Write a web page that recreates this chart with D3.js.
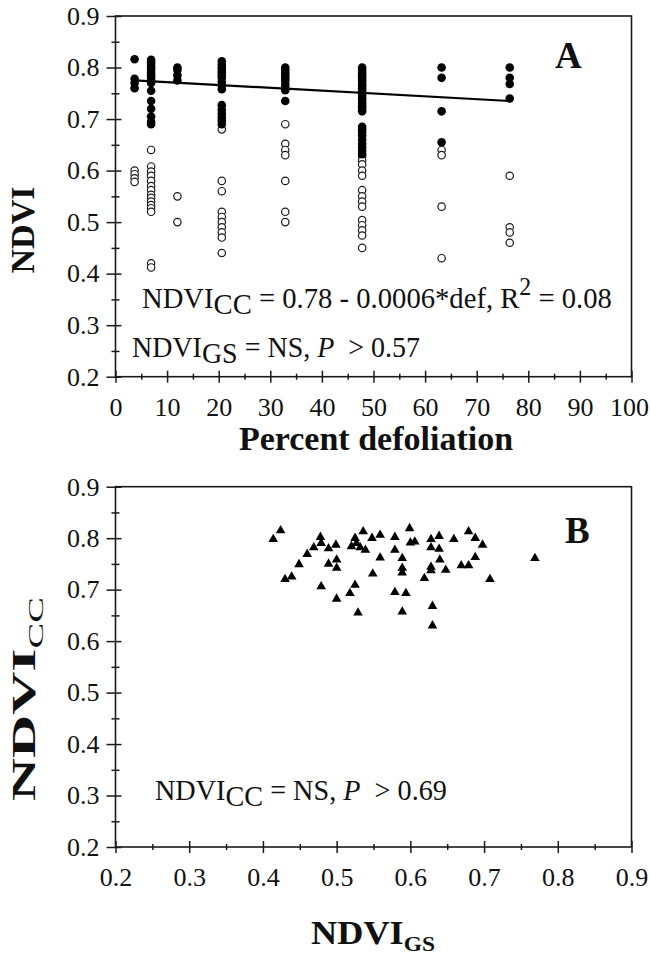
<!DOCTYPE html>
<html>
<head>
<meta charset="utf-8">
<script src="https://cdn.jsdelivr.net/npm/d3@7"></script>
<style>
  body { margin: 0; background: #fff; }
  svg text { font-family: "Liberation Serif", "Times New Roman", serif; fill: #111; }
</style>
</head>
<body>
<div id="chart"></div>
<script>
// ---- Panel A data: percent defoliation groups, NDVI per tree ----
const defLevels = [3.7, 6.9, 12, 20.6, 32.9, 47.8, 63.2, 76.4];

// NDVI_CC (filled circles), one list per defoliation level
const ndviCC = [
    [0.816, 0.778, 0.770, 0.760],
    [0.815, 0.810, 0.805, 0.800, 0.795, 0.790, 0.785, 0.780, 0.775, 0.770, 0.755, 0.735, 0.720, 0.705, 0.695, 0.690],
    [0.800, 0.795, 0.785, 0.775],
    [0.812, 0.806, 0.800, 0.795, 0.790, 0.785, 0.780, 0.772, 0.765, 0.758, 0.727, 0.718, 0.710, 0.703, 0.697, 0.690],
    [0.800, 0.795, 0.790, 0.785, 0.780, 0.775, 0.768, 0.762, 0.756, 0.735],
    [0.800, 0.795, 0.790, 0.785, 0.780, 0.775, 0.770, 0.765, 0.760, 0.755, 0.750, 0.745, 0.740, 0.735, 0.730, 0.725, 0.720, 0.715,
     0.685, 0.680, 0.675, 0.668, 0.660, 0.652, 0.645, 0.638, 0.632],
    [0.800, 0.780, 0.715, 0.655],
    [0.800, 0.780, 0.768, 0.740]
];

// NDVI_GS (open circles)
const ndviGS = [
    [0.600, 0.593, 0.585, 0.578],
    [0.640, 0.608, 0.598, 0.590, 0.580, 0.570, 0.562, 0.553, 0.547, 0.540, 0.533, 0.527, 0.520, 0.420, 0.412],
    [0.550, 0.500],
    [0.680, 0.580, 0.560, 0.520, 0.510, 0.500, 0.490, 0.480, 0.470, 0.440],
    [0.690, 0.652, 0.640, 0.630, 0.580, 0.520, 0.500],
    [0.628, 0.620, 0.612, 0.600, 0.590, 0.562, 0.550, 0.540, 0.530, 0.504, 0.494, 0.484, 0.474, 0.450],
    [0.640, 0.630, 0.530, 0.430],
    [0.590, 0.490, 0.480, 0.460]
];

// regression line for NDVI_CC (end points)
const fitDef = [3.7, 76.4];
const fitNdvi = [0.775, 0.735];

// ---- Panel B data: NDVI_GS vs NDVI_CC ----
const gsB = [0.414, 0.424, 0.430, 0.439, 0.449, 0.460, 0.469, 0.478, 0.479, 0.479, 0.489, 0.489, 0.499, 0.500, 0.500,
    0.500, 0.520, 0.525, 0.536, 0.518, 0.525, 0.529, 0.539, 0.548, 0.549, 0.559, 0.559, 0.579, 0.579, 0.579,
    0.589, 0.589, 0.589, 0.594, 0.589, 0.599, 0.600, 0.606, 0.619, 0.628, 0.628, 0.628, 0.628, 0.630, 0.630,
    0.639, 0.639, 0.640, 0.648, 0.659, 0.669, 0.679, 0.679, 0.688, 0.688, 0.698, 0.708, 0.769, 0.527, 0.532];
const ccB = [0.798, 0.815, 0.720, 0.725, 0.749, 0.769, 0.782, 0.802, 0.790, 0.706, 0.780, 0.750, 0.787, 0.758, 0.742,
    0.682, 0.784, 0.800, 0.813, 0.693, 0.709, 0.655, 0.777, 0.800, 0.731, 0.806, 0.762, 0.802, 0.777, 0.695,
    0.761, 0.742, 0.733, 0.693, 0.657, 0.819, 0.791, 0.793, 0.722, 0.798, 0.782, 0.744, 0.737, 0.668, 0.630,
    0.804, 0.779, 0.758, 0.738, 0.798, 0.747, 0.747, 0.813, 0.800, 0.763, 0.787, 0.720, 0.761, 0.790, 0.782];

// ticks
const defMajor = d3.range(0, 101, 10);
const defMinor = d3.range(5, 100, 10);
const ndviMajor = [0.2, 0.3, 0.4, 0.5, 0.6, 0.7, 0.8, 0.9];
const ndviMinor = [0.25, 0.35, 0.45, 0.55, 0.65, 0.75, 0.85];

// ---- Layout ----
const W = 650, H = 956;
const plotLeft = 115.5, plotRight = 631.5;
const ink = "#1a1a1a";
const serif = '"Liberation Serif", "Times New Roman", serif';
const tickFont = 26;

const svg = d3.select("#chart")
    .append("svg")
    .attr("width", W)
    .attr("height", H);

// Scales
const xA = d3.scaleLinear().domain([0, 100]).range([plotLeft, plotRight]);
const yA = d3.scaleLinear().domain([0.2, 0.9]).range([376.7, 16]);
const xB = d3.scaleLinear().domain([0.2, 0.9]).range([plotLeft, plotRight]);
const yB = d3.scaleLinear().domain([0.2, 0.9]).range([847, 486.7]);

// Draws box + crossing major ticks + minor ticks
function drawFrame(x, y, xMaj, xMin, xFmt, yMaj, yMin) {
    const [x0, x1] = x.range();
    const [y0, y1] = y.range();

    svg.append("rect")
        .attr("x", x0).attr("y", y1)
        .attr("width", x1 - x0).attr("height", y0 - y1)
        .attr("fill", "none").attr("stroke", ink).attr("stroke-width", 1.6);

    // y axis
    const gy = svg.append("g").attr("transform", `translate(${x0},0)`);
    gy.call(d3.axisLeft(y).tickValues(yMaj).tickSize(9).tickSizeOuter(0).tickPadding(7).tickFormat(d3.format(".1f")));
    gy.select(".domain").remove();
    gy.selectAll(".tick line").attr("x1", 6).attr("stroke", ink).attr("stroke-width", 1.5);
    gy.attr("font-family", serif).attr("font-size", tickFont);

    const gym = svg.append("g").attr("transform", `translate(${x0},0)`);
    gym.call(d3.axisLeft(y).tickValues(yMin).tickSize(4).tickSizeOuter(0).tickFormat(""));
    gym.select(".domain").remove();
    gym.selectAll(".tick line").attr("x1", 4).attr("stroke", ink).attr("stroke-width", 1.5);

    // x axis
    const gx = svg.append("g").attr("transform", `translate(0,${y0})`);
    gx.call(d3.axisBottom(x).tickValues(xMaj).tickSize(6).tickSizeOuter(0).tickPadding(15).tickFormat(xFmt));
    gx.select(".domain").remove();
    gx.selectAll(".tick line").attr("y1", -6).attr("stroke", ink).attr("stroke-width", 1.5);
    gx.attr("font-family", serif).attr("font-size", tickFont);

    const gxm = svg.append("g").attr("transform", `translate(0,${y0})`);
    gxm.call(d3.axisBottom(x).tickValues(xMin).tickSize(3).tickSizeOuter(0).tickFormat(""));
    gxm.select(".domain").remove();
    gxm.selectAll(".tick line").attr("y1", -3).attr("stroke", ink).attr("stroke-width", 1.5);
    return gx;
}

// Rich text line built from parts; shift = baseline offset of a part
function richText(x, y, parts, size, targetW) {
    const t = svg.append("text")
        .attr("x", x).attr("y", y)
        .attr("font-size", size)
        .style("white-space", "pre");
    let prev = 0;
    parts.forEach(p => {
        const s = p.shift || 0;
        t.append("tspan")
            .attr("dy", s - prev)
            .attr("font-size", p.size || size)
            .attr("font-style", p.italic ? "italic" : null)
            .attr("font-weight", p.bold ? "bold" : (p.normal ? "normal" : null))
            .text(p.t);
        prev = s;
    });
    if (targetW) {
        const w = t.node().getComputedTextLength();
        t.attr("transform", `translate(${x},0) scale(${targetW / w},1) translate(${-x},0)`);
    }
    return t;
}

// Axis title centred at (cx, cy); stretched along its length to targetLen
function axisTitle(cx, cy, angle, parts, targetLen) {
    const t = richText(0, 0, parts, 34, null)
        .attr("text-anchor", "middle")
        .attr("font-weight", "bold");
    const w = t.node().getComputedTextLength();
    const sx = targetLen ? targetLen / w : 1;
    t.attr("transform", `translate(${cx},${cy}) rotate(${angle}) scale(${sx},1)`);
    return t;
}

// ---------------- Panel A ----------------
const gxA = drawFrame(xA, yA, defMajor, defMinor, d3.format("d"), ndviMajor, ndviMinor);
// keep the last label inside the page, as in the source figure
gxA.selectAll(".tick text").filter(d => d === 100).attr("text-anchor", "end").attr("dx", 17);

const ptsCC = defLevels.flatMap((d, i) => ndviCC[i].map(v => ({ def: d, ndvi: v })));
const ptsGS = defLevels.flatMap((d, i) => ndviGS[i].map(v => ({ def: d, ndvi: v })));

svg.append("g").selectAll("circle")
    .data(ptsGS)
    .enter()
    .append("circle")
    .attr("cx", d => xA(d.def))
    .attr("cy", d => yA(d.ndvi))
    .attr("r", 3.7)
    .attr("fill", "#fff")
    .attr("stroke", ink)
    .attr("stroke-width", 1.2);

svg.append("g").selectAll("circle")
    .data(ptsCC)
    .enter()
    .append("circle")
    .attr("cx", d => xA(d.def))
    .attr("cy", d => yA(d.ndvi))
    .attr("r", 4.3)
    .attr("fill", "#000");

svg.append("line")
    .attr("x1", xA(fitDef[0])).attr("y1", yA(fitNdvi[0]))
    .attr("x2", xA(fitDef[1])).attr("y2", yA(fitNdvi[1]))
    .attr("stroke", "#000").attr("stroke-width", 2.2);

richText(142, 308, [
    { t: "NDVI" }, { t: "CC", shift: 6 }, { t: " = 0.78 - 0.0006*def, R" },
    { t: "2", shift: -13, size: 25 }, { t: " = 0.08" }
], 30, 470);

richText(132, 356.7, [
    { t: "NDVI" }, { t: "GS", shift: 6 }, { t: " = NS, " },
    { t: "P", italic: true }, { t: "  > 0.57" }
], 30, 288);

svg.append("text").attr("x", 555).attr("y", 68)
    .attr("font-size", 37).attr("font-weight", "bold").text("A");

axisTitle(34, 230, -90, [{ t: "NDVI" }], null);
axisTitle(376, 450, 0, [{ t: "Percent defoliation" }], null);

// ---------------- Panel B ----------------
drawFrame(xB, yB, ndviMajor, ndviMinor, d3.format(".1f"), ndviMajor, ndviMinor);

const ptsB = gsB.map((g, i) => ({ gs: g, cc: ccB[i] }));
const tri = d3.symbol().type(d3.symbolTriangle).size(40);

svg.append("g").selectAll("path")
    .data(ptsB)
    .enter()
    .append("path")
    .attr("d", tri)
    .attr("transform", d => `translate(${xB(d.gs)},${yB(d.cc)})`)
    .attr("fill", "#000");

richText(155, 800, [
    { t: "NDVI" }, { t: "CC", shift: 6 }, { t: " = NS, " },
    { t: "P", italic: true }, { t: "  > 0.69" }
], 30, 292);

svg.append("text").attr("x", 565).attr("y", 543)
    .attr("font-size", 37).attr("font-weight", "bold").text("B");

axisTitle(35, 699, -90, [{ t: "NDVI" }, { t: "CC", shift: 8, size: 22, normal: true }], 204);
axisTitle(373, 944, 0, [{ t: "NDVI" }, { t: "GS", shift: 7, size: 22 }], 124);
</script>
</body>
</html>
